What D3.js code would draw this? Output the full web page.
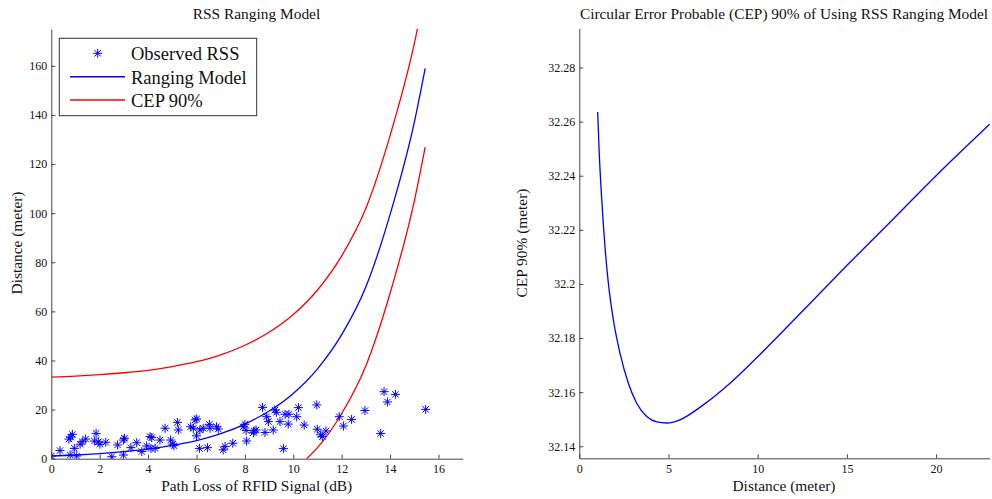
<!DOCTYPE html>
<html>
<head>
<meta charset="utf-8">
<script src="https://cdn.jsdelivr.net/npm/d3@7/dist/d3.min.js"></script>
<style>
  html, body { margin: 0; padding: 0; background: #fff; }
  svg { display: block; }
  text { font-family: "Liberation Serif", "Times New Roman", serif; fill: #111; }
</style>
</head>
<body>
<svg id="chart" width="992" height="499"></svg>
<script>
// ---- Observed RSS samples: path loss (dB) and measured distance (m) ----
const observedPathLoss = [
  0.00, 0.36, 0.73, 0.80, 0.87, 0.78, 0.95, 1.05, 1.19, 1.28, 1.42, 1.78, 1.85, 1.94,
  2.01, 2.25, 2.50, 2.74, 2.98, 3.02, 2.98, 3.29, 3.53, 3.74, 3.94, 4.08, 4.12, 4.15,
  4.49, 4.29, 4.70, 4.93, 5.02, 5.07, 5.21, 5.25, 5.76, 5.94, 6.01, 5.87, 6.00, 6.12,
  6.14, 6.28, 6.45, 6.53, 6.56, 6.83, 6.90, 7.10, 7.18, 7.50, 7.93, 8.00, 8.05, 8.07,
  8.38, 8.46, 8.35, 8.73, 8.83, 8.90, 8.97, 9.17, 9.24, 9.30, 9.45, 9.59, 9.66, 9.82,
  9.79, 10.14, 10.21, 10.45, 10.97, 10.99, 11.13, 11.20, 11.35, 11.90, 12.07, 12.41,
  12.96, 13.61, 13.75, 13.89, 14.22, 15.47
];
const observedDistance = [
  1.1, 3.3, 8.0, 8.8, 9.9, 1.5, 4.2, 1.1, 5.9, 6.9, 8.0, 7.2, 10.3, 6.9,
  5.9, 6.7, 0.8, 5.6, 7.6, 8.3, 1.5, 4.5, 6.5, 2.9, 5.2, 9.0, 4.2, 8.6,
  7.6, 4.2, 12.4, 7.6, 5.9, 5.3, 14.8, 11.7, 13.0, 15.8, 16.2, 12.4, 9.3, 4.2,
  11.7, 12.4, 4.5, 14.0, 12.4, 13.0, 12.1, 3.6, 5.0, 6.3, 13.0, 14.0, 11.5, 7.2,
  11.3, 11.7, 10.6, 20.9, 10.7, 17.1, 15.1, 11.7, 19.8, 18.9, 15.1, 4.1, 18.1, 18.1,
  14.1, 17.1, 20.8, 13.7, 21.9, 12.0, 9.7, 9.0, 11.3, 17.1, 13.3, 16.0,
  19.6, 10.3, 27.3, 23.1, 26.2, 20.1
];

// ---- Ranging model and its CEP 90% band ----
const modelPathLoss = [0, 1, 2, 3, 4, 5, 6, 7, 8, 9, 10, 11, 12, 13, 14, 15, 15.45];
const modelDistance = [1.1, 1.5, 2.1, 2.9, 3.9, 5.4, 7.4, 10.2, 14.1, 19.4, 26.6, 36.6, 50.5, 70, 99.5, 137, 159];
const cepUpperDistance = [33.2, 33.6, 34.2, 35.0, 36.0, 37.5, 39.5, 42.3, 46.2, 51.5, 58.7, 68.7, 82.6, 102, 131.6, 169, 191];
const cepLowerPathLoss = [10.55, 11, 12, 13, 14, 15, 15.45];
const cepLowerDistance = [0, 4.5, 18.4, 37.9, 67.4, 104.9, 126.9];

// ---- CEP 90% as a function of distance ----
const cepCurveDistance = [1.03, 1.12, 1.25, 1.44, 1.63, 1.91, 2.28, 2.75, 3.21, 3.78, 4.34, 4.90, 5.64, 6.95, 8.45, 10.0, 12.56, 15.01, 17.42, 20.0, 23.0];
const cepCurveValue = [32.2636, 32.248, 32.2321, 32.2137, 32.2002, 32.1867, 32.1744, 32.1633, 32.1560, 32.1510, 32.1490, 32.1486, 32.1498, 32.1553, 32.1633, 32.1731, 32.1903, 32.2069, 32.2228, 32.2400, 32.2590];

// ---- Tick values ----
const leftXTicks = [0, 2, 4, 6, 8, 10, 12, 14, 16];
const leftYTicks = [0, 20, 40, 60, 80, 100, 120, 140, 160];
const rightXTicks = [0, 5, 10, 15, 20];
const rightYTicks = [32.14, 32.16, 32.18, 32.2, 32.22, 32.24, 32.26, 32.28];

const BLUE = "#0000ff", RED = "#ff0000", AXIS = "#444";

const svg = d3.select("#chart");

// Draw one MATLAB-style asterisk marker (plus + cross) centred at (0,0)
function asterisk(sel, r) {
  const d = r * Math.SQRT1_2;
  sel.append("path")
    .attr("d", `M${-r},0L${r},0M0,${-r}L0,${r}M${-d},${-d}L${d},${d}M${-d},${d}L${d},${-d}`)
    .attr("stroke", BLUE).attr("stroke-width", 1).attr("fill", "none");
}

function styleAxis(g) {
  g.select(".domain").attr("stroke", AXIS).attr("stroke-width", 1);
  g.selectAll(".tick line").attr("stroke", AXIS);
  g.selectAll(".tick text").style("font-family", '"Liberation Serif", serif')
    .style("font-size", "12px").attr("fill", "#111");
}

// ================= Left panel: RSS ranging model =================
{
  const x0 = 51.3, x1 = 462.7, yTop = 29, yBot = 458.7;
  const x = d3.scaleLinear().domain([0, 17]).range([x0, x1]);
  const y = d3.scaleLinear().domain([0, 175]).range([yBot, yTop]);

  svg.append("defs").append("clipPath").attr("id", "clipLeft")
    .append("rect").attr("x", x0).attr("y", yTop).attr("width", x1 - x0).attr("height", yBot - yTop);

  const plot = svg.append("g").attr("clip-path", "url(#clipLeft)");

  const line = d3.line().curve(d3.curveMonotoneX).x(d => x(d[0])).y(d => y(d[1]));

  plot.append("path")
    .datum(modelPathLoss.map((v, i) => [v, cepUpperDistance[i]]))
    .attr("d", line).attr("fill", "none").attr("stroke", RED).attr("stroke-width", 1.3);
  plot.append("path")
    .datum(cepLowerPathLoss.map((v, i) => [v, cepLowerDistance[i]]))
    .attr("d", line).attr("fill", "none").attr("stroke", RED).attr("stroke-width", 1.3);
  plot.append("path")
    .datum(modelPathLoss.map((v, i) => [v, modelDistance[i]]))
    .attr("d", line).attr("fill", "none").attr("stroke", BLUE).attr("stroke-width", 1.3);

  plot.selectAll("g.obs")
    .data(observedPathLoss.map((v, i) => [v, observedDistance[i]]))
    .join("g").attr("class", "obs")
    .attr("transform", d => `translate(${x(d[0])},${y(d[1])})`)
    .each(function () { asterisk(d3.select(this), 4.5); });

  const gx = svg.append("g").attr("transform", `translate(0,${yBot})`)
    .call(d3.axisBottom(x).tickValues(leftXTicks).tickSizeInner(-4).tickSizeOuter(0).tickPadding(6));
  styleAxis(gx);
  const gy = svg.append("g").attr("transform", `translate(${x0},0)`)
    .call(d3.axisLeft(y).tickValues(leftYTicks).tickSizeInner(-4).tickSizeOuter(0).tickPadding(4));
  styleAxis(gy);

  svg.append("text").attr("x", 256.5).attr("y", 18.5).attr("text-anchor", "middle")
    .style("font-size", "15.4px").text("RSS Ranging Model");
  svg.append("text").attr("x", 256.7).attr("y", 490.5).attr("text-anchor", "middle")
    .style("font-size", "15.4px").text("Path Loss of RFID Signal (dB)");
  svg.append("text").attr("transform", "translate(22,243) rotate(-90)").attr("text-anchor", "middle")
    .style("font-size", "15.4px").text("Distance (meter)");

  // Legend
  const lg = svg.append("g");
  lg.append("rect").attr("x", 59.3).attr("y", 38.3).attr("width", 197.4).attr("height", 77.4)
    .attr("fill", "#fff").attr("stroke", "#333").attr("stroke-width", 1);
  const entries = [
    { label: "Observed RSS", kind: "marker", cy: 53.3 },
    { label: "Ranging Model", kind: "line", color: BLUE, cy: 76.7 },
    { label: "CEP 90%", kind: "line", color: RED, cy: 100 }
  ];
  entries.forEach(e => {
    if (e.kind === "marker") {
      asterisk(lg.append("g").attr("transform", `translate(97.7,${e.cy})`), 4.5);
    } else {
      lg.append("line").attr("x1", 70).attr("x2", 125).attr("y1", e.cy).attr("y2", e.cy)
        .attr("stroke", e.color).attr("stroke-width", 1.5);
    }
    lg.append("text").attr("x", 131).attr("y", e.cy + 7).style("font-size", "18.5px").text(e.label);
  });
}

// ================= Right panel: CEP 90% vs distance =================
{
  const x0 = 579.3, x1 = 989.6, yTop = 28.3, yBot = 458.3;
  const x = d3.scaleLinear().domain([0, 23]).range([x0, x1]);
  const y = d3.scaleLinear().domain([32.13556, 32.2945]).range([yBot, yTop]);

  const line = d3.line().curve(d3.curveMonotoneX).x(d => x(d[0])).y(d => y(d[1]));
  svg.append("path")
    .datum(cepCurveDistance.map((v, i) => [v, cepCurveValue[i]]))
    .attr("d", line).attr("fill", "none").attr("stroke", BLUE).attr("stroke-width", 1.3);

  const gx = svg.append("g").attr("transform", `translate(0,${yBot})`)
    .call(d3.axisBottom(x).tickValues(rightXTicks).tickSizeInner(-4).tickSizeOuter(0).tickPadding(6));
  styleAxis(gx);
  const gy = svg.append("g").attr("transform", `translate(${x0},0)`)
    .call(d3.axisLeft(y).tickValues(rightYTicks).tickFormat(d => String(+d.toFixed(2)))
      .tickSizeInner(-4).tickSizeOuter(0).tickPadding(4));
  styleAxis(gy);

  svg.append("text").attr("x", 784).attr("y", 18.5).attr("text-anchor", "middle")
    .style("font-size", "15.4px").text("Circular Error Probable (CEP) 90% of Using RSS Ranging Model");
  svg.append("text").attr("x", 784).attr("y", 490.5).attr("text-anchor", "middle")
    .style("font-size", "15.4px").text("Distance (meter)");
  svg.append("text").attr("transform", "translate(527,243) rotate(-90)").attr("text-anchor", "middle")
    .style("font-size", "15.4px").text("CEP 90% (meter)");
}
</script>
</body>
</html>
